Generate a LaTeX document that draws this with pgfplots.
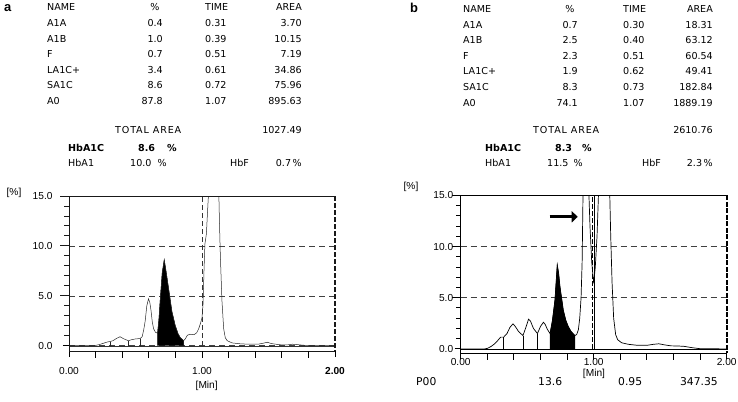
\documentclass[border=0pt]{standalone}
\usepackage{fontspec}
\setmainfont{Liberation Sans}
\newfontfamily\tabfont{DejaVu Sans}
\newfontfamily\tabfontls[LetterSpace=9]{DejaVu Sans}
\usepackage{pgfplots}
\pgfplotsset{compat=1.18}
\usetikzlibrary{arrows.meta}

\newcommand\tf{\tabfont\fontsize{9.6}{11}\selectfont}
\newcommand\trow[9]{%
 \node[anchor=base west] at (#2,#1) {#3};
 \node[anchor=base east] at (#4,#1) {#5};
 \node[anchor=base west] at (#6,#1) {#7};
 \node[anchor=base east] at (#8,#1) {#9};}

\pgfplotsset{chrom/.style={
  scale only axis, width=266bp, anchor=south west,
  xmin=0, xmax=2, ymax=15,
  axis line style={draw=none},
  xtick={0,1,2}, ytick={0,5,10,15},
  xtick pos=bottom, ytick pos=left,
  tick align=outside, major tick length=6bp,
  major tick style={black, line width=1bp},
  ymajorgrids, major grid style={black!75, line width=0.5bp, dash pattern=on 6bp off 4bp},
  ticklabel style={font=\fontsize{10.2}{11}\selectfont},
  yticklabels={0.0,5.0,10.0,15.0},
}}

\begin{document}
\begin{tikzpicture}
\path[use as bounding box] (0,0) rectangle (738bp,-402bp);

% ---------- chart a ----------
\begin{axis}[chrom, at={(69bp,-351.2bp)}, height=155.2bp, ymin=-0.55,
  xticklabels={0.00,1.00,\textbf{2.00}},
  xticklabel style={yshift=-7bp}, yticklabel style={xshift=-7bp}]
\addplot[black!80, line width=0.4bp] coordinates {(0,0)(2,0)};
\addplot[fill=black, draw=black, line width=0.4bp] coordinates {
 (0.666,0)(0.666,1.25)(0.676,2.6)(0.686,4.6)(0.701,7.3)(0.716,8.6)(0.728,7.6)
 (0.749,5.7)(0.774,3.4)(0.799,2.0)(0.820,1.2)(0.837,0.8)(0.862,0.5)(0.862,0)};
\addplot[black!85, line width=0.5bp] coordinates {
 (0,0)(0.18,0)(0.2,0.03)(0.23,0.12)(0.26,0.25)(0.29,0.38)(0.309,0.42)(0.33,0.5)
 (0.36,0.75)(0.384,0.9)(0.41,0.7)(0.447,0.5)(0.47,0.6)(0.50,0.68)(0.535,0.72)
 (0.55,0.9)(0.562,1.6)(0.573,2.5)(0.585,4.0)(0.598,4.7)(0.608,4.3)(0.616,3.6)
 (0.626,2.4)(0.636,1.7)(0.650,1.35)(0.666,1.25)(0.676,2.6)(0.686,4.6)(0.701,7.3)
 (0.716,8.6)(0.728,7.6)(0.749,5.7)(0.774,3.4)(0.799,2.0)(0.820,1.2)(0.837,0.8)
 (0.862,0.5)(0.875,0.7)(0.89,1.05)(0.91,1.15)(0.94,1.1)(0.96,1.3)(0.975,1.7)
 (0.99,2.3)(1.0,2.8)(1.008,4.2)(1.015,7.5)(1.022,10.2)(1.033,11.2)(1.042,13.5)
 (1.05,15.5)(1.07,24)(1.10,24)(1.126,15.5)(1.132,12)(1.138,9)(1.15,4.5)(1.163,1.7)
 (1.175,0.8)(1.19,0.5)(1.226,0.28)(1.28,0.2)(1.35,0.15)(1.42,0.15)(1.46,0.25)
 (1.49,0.35)(1.52,0.22)(1.58,0.1)(1.64,0.08)(1.68,0.15)(1.71,0.12)(1.76,0.05)
 (1.82,0.01)(2,0)};
\addplot[black!85, line width=0.5bp] coordinates {(0.309,0)(0.309,0.42)};
\addplot[black!85, line width=0.5bp] coordinates {(0.447,0)(0.447,0.5)};
\addplot[black!85, line width=0.5bp] coordinates {(0.535,0)(0.535,0.72)};
\addplot[black!80, line width=0.5bp, dash pattern=on 5bp off 3bp] coordinates {(1,0)(1,15)};
\end{axis}

% ---------- chart b ----------
\begin{axis}[chrom, at={(460.7bp,-353bp)}, height=157.7bp, ymin=-0.4,
  xticklabels={0.00,1.00,2.00},
  xticklabel style={yshift=4bp}, yticklabel style={xshift=2bp}]
\addplot[black, line width=0.5bp] coordinates {(0,0)(2,0)};
\addplot[fill=black, draw=black, line width=0.5bp] coordinates {
 (0.672,0)(0.672,1.5)(0.69,2.8)(0.709,4.8)(0.726,8.2)(0.736,7.4)(0.746,6.1)
 (0.771,3.8)(0.79,2.8)(0.808,2.2)(0.83,1.7)(0.858,1.3)(0.858,0)};
\addplot[black, line width=0.7bp] coordinates {
 (0,0)(0.18,0)(0.2,0.05)(0.23,0.25)(0.255,0.5)(0.274,0.75)(0.3,1.15)(0.323,1.15)
 (0.348,1.5)(0.37,2.1)(0.393,2.45)(0.41,2.2)(0.435,1.7)(0.468,1.3)(0.49,2.1)
 (0.51,2.9)(0.525,2.7)(0.547,2.0)(0.577,1.5)(0.60,2.2)(0.622,2.6)(0.635,2.4)
 (0.652,1.9)(0.672,1.5)(0.69,2.8)(0.709,4.8)(0.726,8.2)(0.736,7.4)(0.746,6.1)
 (0.771,3.8)(0.79,2.8)(0.808,2.2)(0.83,1.7)(0.858,1.3)(0.872,1.4)(0.885,1.9)
 (0.895,3.0)(0.905,5.0)(0.913,8.5)(0.92,15.5)(0.94,24)(0.963,15.5)(0.972,12)
 (0.985,8.5)(1.0,6.4)(1.012,8.0)(1.025,11)(1.037,15.5)(1.07,25)(1.12,15.5)
 (1.128,11)(1.138,6.5)(1.15,3.0)(1.165,1.4)(1.18,0.9)(1.21,0.6)(1.26,0.45)
 (1.33,0.35)(1.40,0.35)(1.45,0.45)(1.49,0.5)(1.53,0.4)(1.58,0.3)(1.64,0.28)
 (1.68,0.25)(1.74,0.12)(1.8,0.02)(2,0)};
\addplot[black, line width=0.6bp] coordinates {(0.323,0)(0.323,1.15)};
\addplot[black, line width=0.6bp] coordinates {(0.468,0)(0.468,1.3)};
\addplot[black, line width=0.6bp] coordinates {(0.577,0)(0.577,1.5)};
\addplot[black, line width=0.6bp, dash pattern=on 5bp off 2bp] coordinates {(0.992,0)(0.992,15)};
\addplot[black, line width=0.8bp] coordinates {(1.004,0)(1.004,15)};
\draw[-{Triangle[length=6bp,width=11bp]}, line width=3bp] (axis cs:0.668,12.9) -- (axis cs:0.88,12.9);
\end{axis}

% ---------- frames and ticks (decoration, page coordinates) ----------
\begin{scope}[x=1bp, y=-1bp]
% chart a: x 69..335, y 196..351.2, 9.981 bp per unit, ymin -0.55
\draw[black!90, line width=0.9bp] (335,196) -- (69,196) -- (69,351.2) -- (335,351.2);
\draw[black!90, line width=1.1bp, dash pattern=on 5bp off 2bp] (335,196) -- (335,351.2);
\foreach \k in {1,...,9} \draw[black, line width=1bp] ({69+26.6*\k},351.2) -- ++(0,6.5);
\foreach \v in {1,2,3,4,6,7,8,9,11,12,13,14} \draw[black!90, line width=0.9bp] (69,{351.2-(\v+0.55)*9.981}) -- ++(-5,0);
\foreach \v in {5,10} \draw[black!90, line width=0.9bp] (69,{351.2-(\v+0.55)*9.981}) -- ++(-9,0);
\draw[black!90, line width=0.9bp] (69,196) -- ++(-9,0);
% chart b: x 460.7..726.7, y 195.3..353, 10.240 bp per unit, ymin -0.4
\draw[black, line width=1bp] (726.7,195.3) -- (460.7,195.3) -- (460.7,353) -- (726.7,353);
\draw[black, line width=1.6bp, dash pattern=on 5bp off 1.5bp] (726.7,195.3) -- (726.7,353);
\foreach \k in {1,...,9} \draw[black, line width=1bp] ({460.7+26.6*\k},353) -- ++(0,6.5);
\foreach \v in {1,2,3,4,6,7,8,9,11,12,13,14} \draw[black, line width=0.9bp] (460.7,{353-(\v+0.4)*10.24}) -- ++(-5,0);
\foreach \v in {5,10} \draw[black, line width=0.9bp] (460.7,{353-(\v+0.4)*10.24}) -- ++(-9,0);
\draw[black, line width=0.9bp] (460.7,195.3) -- ++(-9,0);
\end{scope}

% ---------- texts ----------
\begin{scope}[x=1bp, y=-1bp, every node/.style={inner sep=0pt, font=\tf}]
\node[anchor=base west, font=\fontsize{13}{14}\selectfont\bfseries] at (4,11.5) {a};
\node[anchor=base west, font=\fontsize{13}{14}\selectfont\bfseries] at (410,12.5) {b};
% table a
\node[anchor=base west] at (47,10.9) {NAME};
\node[anchor=base] at (155,10.9) {\%};
\node[anchor=base west] at (205,10.9) {TIME};
\node[anchor=base east] at (302,10.9) {AREA};
\trow{26.4}{47}{A1A}{163}{0.4}{205}{0.31}{302}{3.70}
\trow{42.0}{47}{A1B}{163}{1.0}{205}{0.39}{302}{10.15}
\trow{57.5}{47}{F}{163}{0.7}{205}{0.51}{302}{7.19}
\trow{73.1}{47}{LA1C+}{163}{3.4}{205}{0.61}{302}{34.86}
\trow{88.6}{47}{SA1C}{163}{8.6}{205}{0.72}{302}{75.96}
\trow{104.2}{47}{A0}{163}{87.8}{205}{1.07}{302}{895.63}
\node[anchor=base west, font=\tabfontls\fontsize{9.6}{11}\selectfont] at (115,133.4) {TOTAL AREA};
\node[anchor=base east] at (302,133.4) {1027.49};
\node[anchor=base west] at (68,151.4) {\bfseries HbA1C};
\node[anchor=base west] at (138,151.4) {\bfseries 8.6};
\node[anchor=base east] at (177,151.4) {\bfseries\%};
\node[anchor=base west] at (68,166.4) {HbA1};
\node[anchor=base west] at (130,166.4) {10.0};
\node[anchor=base east] at (167,166.4) {\%};
\node[anchor=base west] at (230,166.4) {HbF};
\node[anchor=base east] at (302,166.4) {0.7\,\%};
% table b
\node[anchor=base west] at (463,12.7) {NAME};
\node[anchor=base] at (570,12.7) {\%};
\node[anchor=base west] at (623,12.7) {TIME};
\node[anchor=base east] at (713,12.7) {AREA};
\trow{28.2}{463}{A1A}{578}{0.7}{623}{0.30}{713}{18.31}
\trow{43.8}{463}{A1B}{578}{2.5}{623}{0.40}{713}{63.12}
\trow{59.3}{463}{F}{578}{2.3}{623}{0.51}{713}{60.54}
\trow{74.9}{463}{LA1C+}{578}{1.9}{623}{0.62}{713}{49.41}
\trow{90.4}{463}{SA1C}{578}{8.3}{623}{0.73}{713}{182.84}
\trow{106.0}{463}{A0}{578}{74.1}{623}{1.07}{713}{1889.19}
\node[anchor=base west, font=\tabfontls\fontsize{9.6}{11}\selectfont] at (533,133.4) {TOTAL AREA};
\node[anchor=base east] at (713,133.4) {2610.76};
\node[anchor=base west] at (485,151.4) {\bfseries HbA1C};
\node[anchor=base west] at (555,151.4) {\bfseries 8.3};
\node[anchor=base east] at (592,151.4) {\bfseries\%};
\node[anchor=base west] at (485,166.4) {HbA1};
\node[anchor=base west] at (547,166.4) {11.5};
\node[anchor=base east] at (583,166.4) {\%};
\node[anchor=base west] at (642,166.4) {HbF};
\node[anchor=base east] at (713,166.4) {2.3\,\%};
% axis unit labels
\node[font=\fontsize{10.2}{11}\selectfont] at (14,193) {[\%]};
\node[font=\fontsize{10.2}{11}\selectfont] at (411,187) {[\%]};
\node[font=\fontsize{10.2}{11}\selectfont] at (206.7,386) {[Min]};
\node[font=\fontsize{10.2}{11}\selectfont] at (594,373.5) {[Min]};
% bottom line b
\node[anchor=base west, font=\tabfont\fontsize{10.8}{12}\selectfont] at (416,385.5) {P00};
\node[anchor=base west, font=\tabfont\fontsize{10.8}{12}\selectfont] at (538,385.5) {13.6};
\node[anchor=base west, font=\tabfont\fontsize{10.8}{12}\selectfont] at (618,385.5) {0.95};
\node[anchor=base east, font=\tabfont\fontsize{10.8}{12}\selectfont] at (718,385.5) {347.35};
\end{scope}
\end{tikzpicture}
\end{document}
